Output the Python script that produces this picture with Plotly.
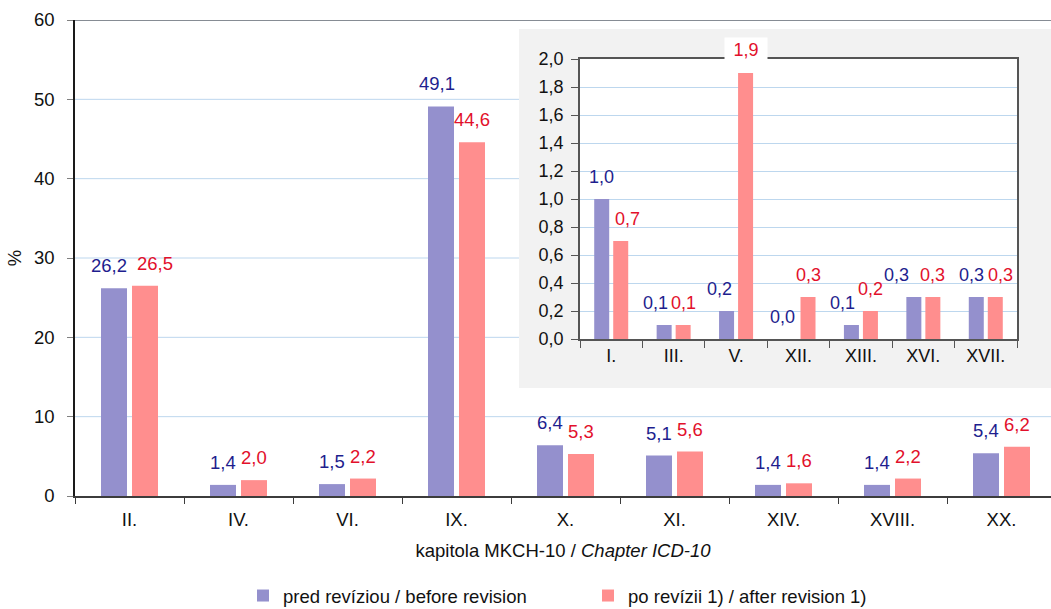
import plotly.graph_objects as go

# ---- data -------------------------------------------------------------
main_categories = ["II.", "IV.", "VI.", "IX.", "X.", "XI.", "XIV.", "XVIII.", "XX."]
main_before = [26.2, 1.4, 1.5, 49.1, 6.4, 5.1, 1.4, 1.4, 5.4]
main_after = [26.5, 2.0, 2.2, 44.6, 5.3, 5.6, 1.6, 2.2, 6.2]

inset_categories = ["I.", "III.", "V.", "XII.", "XIII.", "XVI.", "XVII."]
inset_before = [1.0, 0.1, 0.2, 0.0, 0.1, 0.3, 0.3]
inset_after = [0.7, 0.1, 1.9, 0.3, 0.2, 0.3, 0.3]

main_ticks = [0, 10, 20, 30, 40, 50, 60]
inset_ticks = [0.0, 0.2, 0.4, 0.6, 0.8, 1.0, 1.2, 1.4, 1.6, 1.8, 2.0]

series_names = ["pred revíziou / before revision", "po revízii 1) / after revision 1)"]
x_title = "kapitola MKCH-10 / <i>Chapter ICD-10</i>"
y_title = "%"

# ---- styling ----------------------------------------------------------
W, H = 1051, 609
L, R, T, B = 75, 0, 20, 113
PW, PH = W - L - R, H - T - B

FONT = "Liberation Sans, Arial, sans-serif"
BAR_COLORS = ["#9490CD", "#FF8E8E"]
LABEL_COLORS = ["#1E1E8E", "#E2102B"]
GRID = "#BDD7EE"
INSET_BG = "#F2F2F2"


def px_x(x):
    return (x - L) / PW


def px_y(y):
    return (T + PH - y) / PH


def fmt(v):
    return f"{v:.1f}".replace(".", ",")


# label nudges (pixels) for labels that sit off-centre
inset_label_shift = {
    (0, 1): 7, (1, 0): -9, (2, 0): -7, (3, 0): -7,
    (4, 0): -9, (5, 0): -17, (6, 0): -5, (6, 1): 5,
}
main_label_shift = {(0, 0): -5, (0, 1): 10, (3, 0): -4}

fig = go.Figure()
annotations = []


def add_pair(cats, series, xa, ya, bar_w, gap, font_size, shifts, legend):
    offsets = [-(bar_w + gap / 2), gap / 2]
    for s, vals in enumerate(series):
        fig.add_trace(go.Bar(
            x=cats, y=vals, name=series_names[s],
            xaxis=xa, yaxis=ya,
            width=bar_w, offset=offsets[s],
            marker=dict(color=BAR_COLORS[s], line=dict(width=0)),
            showlegend=legend,
        ))
        for i, v in enumerate(vals):
            boxed = (xa == "x2" and v >= 1.9)
            ann = dict(
                x=i + offsets[s] + bar_w / 2, y=v,
                xref=xa, yref=ya,
                text=fmt(v), showarrow=False,
                yanchor="bottom", yshift=10,
                xshift=shifts.get((i, s), 0),
                font=dict(family=FONT, size=font_size, color=LABEL_COLORS[s]),
            )
            if boxed:
                ann.update(bgcolor="white", width=40, height=22)
            annotations.append(ann)


add_pair(main_categories, [main_before, main_after], "x", "y",
         26 / 109, 5 / 109, 18.5, main_label_shift, True)
add_pair(inset_categories, [inset_before, inset_after], "x2", "y2",
         15 / 62.4, 4 / 62.4, 18, inset_label_shift, False)

shapes = []
# main horizontal gridlines (drawn as shapes so the inset panel can hide them)
for t in main_ticks[1:-1]:
    shapes.append(dict(type="line", xref="paper", yref="y", x0=0, x1=1, y0=t, y1=t,
                       line=dict(color=GRID, width=1), layer="below"))
shapes.append(dict(type="line", xref="paper", yref="y", x0=0, x1=1,
                   y0=main_ticks[-1], y1=main_ticks[-1],
                   line=dict(color="#868C94", width=2), layer="below"))
# inset panel background and its white plotting area
shapes.append(dict(type="rect", xref="paper", yref="paper",
                   x0=px_x(519), x1=1.0, y0=px_y(388), y1=px_y(29),
                   fillcolor=INSET_BG, line=dict(width=0), layer="below"))
inset_x = [px_x(580), px_x(1017)]
inset_y = [px_y(339), px_y(59)]
shapes.append(dict(type="rect", xref="paper", yref="paper",
                   x0=inset_x[0], x1=inset_x[1], y0=inset_y[0], y1=inset_y[1],
                   fillcolor="white", line=dict(width=0), layer="below"))

tick_font = dict(family=FONT, size=18.5, color="#111111")

fig.update_layout(
    width=W, height=H,
    margin=dict(l=L, r=R, t=T, b=B, autoexpand=False),
    paper_bgcolor="white", plot_bgcolor="white",
    separators=", ",
    barmode="overlay",
    font=dict(family=FONT, size=18.5, color="#111111"),
    shapes=shapes, annotations=annotations,
    showlegend=True,
    legend=dict(orientation="h", x=px_x(243), xanchor="left",
                y=px_y(596), yanchor="middle",
                font=dict(family=FONT, size=18.5, color="#111111"),
                entrywidth=300, entrywidthmode="pixels",
                itemwidth=30, bgcolor="rgba(0,0,0,0)", traceorder="normal"),
    xaxis=dict(
        type="category", domain=[0, 1], anchor="y",
        range=[-0.5, -0.5 + PW / 109],
        showgrid=False, showline=True, linecolor="#3C3C3C", linewidth=2,
        ticks="outside", tickson="boundaries", ticklen=6, tickcolor="#3C3C3C",
        tickfont=tick_font, ticklabelstandoff=6,
        title=dict(text=x_title, font=dict(family=FONT, size=18.5), standoff=15),
        automargin=False, fixedrange=True,
    ),
    yaxis=dict(
        domain=[0, 1], anchor="x", range=[0, 60], tickvals=main_ticks,
        showgrid=False, zeroline=False, showline=True, linecolor="#1A1A1A", linewidth=1.5,
        ticks="outside", ticklen=6, tickcolor="#808080",
        tickfont=tick_font, ticklabelstandoff=9,
        title=dict(text=y_title, font=dict(family=FONT, size=18.5), standoff=7),
        automargin=False, fixedrange=True,
    ),
    xaxis2=dict(
        type="category", domain=inset_x, anchor="y2",
        range=[-0.5, len(inset_categories) - 0.5],
        showgrid=False, showline=True, mirror=True, linecolor="#555555", linewidth=1.5,
        ticks="outside", tickson="boundaries", ticklen=7, tickcolor="#555555",
        tickfont=dict(family=FONT, size=18, color="#111111"),
        automargin=False, fixedrange=True,
    ),
    yaxis2=dict(
        domain=inset_y, anchor="x2", range=[0, 2.0], tickvals=inset_ticks,
        tickformat=".1f",
        showgrid=True, gridcolor=GRID, gridwidth=1, zeroline=False,
        showline=True, mirror=True, linecolor="#555555", linewidth=1.5,
        ticks="outside", ticklen=7, tickcolor="#555555",
        tickfont=dict(family=FONT, size=18, color="#111111"), ticklabelstandoff=4,
        automargin=False, fixedrange=True,
    ),
)

fig.write_html("out.html")
